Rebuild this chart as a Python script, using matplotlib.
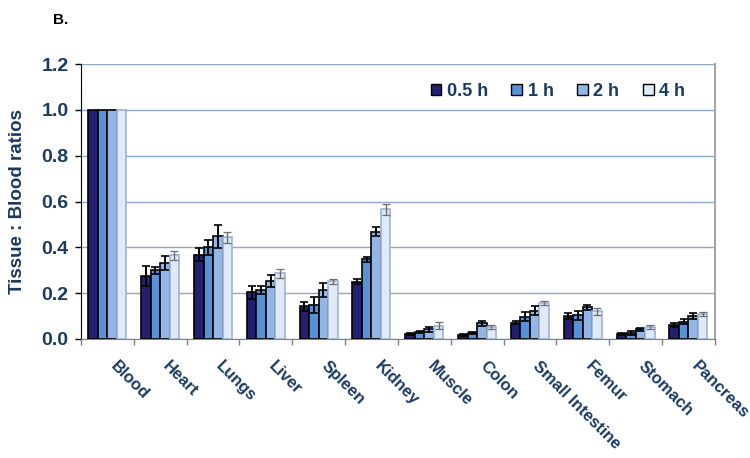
import matplotlib
matplotlib.use("Agg")
import matplotlib.pyplot as plt
import matplotlib.transforms as mtransforms
import numpy as np

plt.rcParams['font.family'] = ['Liberation Sans', 'DejaVu Sans']

categories = ["Blood", "Heart", "Lungs", "Liver", "Spleen", "Kidney", "Muscle",
              "Colon", "Small Intestine", "Femur", "Stomach", "Pancreas"]
series = ["0.5 h", "1 h", "2 h", "4 h"]

v_05 = [1.0, 0.275, 0.367, 0.204, 0.143, 0.250, 0.023, 0.017, 0.071, 0.100, 0.023, 0.061]
v_1  = [1.0, 0.300, 0.400, 0.215, 0.147, 0.348, 0.029, 0.026, 0.097, 0.103, 0.026, 0.076]
v_2  = [1.0, 0.330, 0.448, 0.253, 0.214, 0.468, 0.042, 0.068, 0.124, 0.138, 0.042, 0.100]
v_4  = [1.0, 0.365, 0.444, 0.287, 0.252, 0.566, 0.058, 0.052, 0.158, 0.121, 0.052, 0.109]

e_05 = [0.0, 0.045, 0.028, 0.028, 0.020, 0.012, 0.004, 0.004, 0.008, 0.012, 0.004, 0.010]
e_1  = [0.0, 0.015, 0.033, 0.018, 0.035, 0.010, 0.005, 0.004, 0.020, 0.020, 0.008, 0.010]
e_2  = [0.0, 0.030, 0.050, 0.025, 0.030, 0.020, 0.010, 0.012, 0.020, 0.010, 0.006, 0.014]
e_4  = [0.0, 0.020, 0.025, 0.020, 0.010, 0.025, 0.014, 0.010, 0.008, 0.015, 0.010, 0.010]

values = [v_05, v_1, v_2, v_4]
errors = [e_05, e_1, e_2, e_4]
colors = ["#241f6e", "#5592d8", "#92b6e6", "#dfe9f7"]
edges = ["#000000", "#000000", "#000000", "#9cb4d6"]
ecolors = ["#000000", "#000000", "#000000", "#6e6e6e"]

txt = "#1a3a63"

fig = plt.figure(figsize=(7.5, 4.58), dpi=100)
ax = fig.add_axes([0.108, 0.260, 0.845, 0.600])

x = np.arange(len(categories))
bw = 0.18
for i in range(4):
    ax.bar(x + (i - 1.5) * bw, values[i], bw, color=colors[i], edgecolor=edges[i],
           linewidth=1.2, label=series[i], zorder=3,
           yerr=[e if e > 0 else np.nan for e in errors[i]],
           error_kw=dict(ecolor=ecolors[i], elinewidth=1.4 if i < 3 else 1.0,
                         capsize=3, capthick=1.2 if i < 3 else 0.9, zorder=4))

ax.set_xlim(-0.5, len(categories) - 0.5)
ax.set_ylim(0, 1.2)
ax.set_yticks(np.arange(0, 1.21, 0.2))
ax.set_yticklabels([f"{t:.1f}" for t in np.arange(0, 1.21, 0.2)],
                   fontsize=14, fontweight='bold', color=txt)
ax.yaxis.grid(True, color="#8da7c9", linewidth=1.0, zorder=0)
ax.set_axisbelow(True)

ax.set_xticks(x)
ax.set_xticklabels(categories, rotation=-45, ha='left', va='top',
                   fontsize=12, fontweight='bold', color=txt)
shift = mtransforms.ScaledTranslation(-5 / 100, 0, fig.dpi_scale_trans)
for lab in ax.get_xticklabels():
    lab.set_transform(lab.get_transform() + shift)
ax.tick_params(axis='x', which='major', length=0, pad=14)
ax.set_xticks(np.arange(-0.5, len(categories), 1), minor=True)
ax.tick_params(axis='x', which='minor', length=4, color="#808080", width=1)
ax.tick_params(axis='y', length=4, color="#000000", width=1, pad=5)

ax.spines['left'].set_color("#000000")
ax.spines['bottom'].set_color("#808080")
ax.spines['right'].set_color("#a6a6a6")
ax.spines['right'].set_linewidth(1.5)
ax.spines['top'].set_visible(False)

ax.set_ylabel("Tissue : Blood ratios", fontsize=13.5, fontweight='bold', color=txt, labelpad=11)

leg = ax.legend(loc='upper right', bbox_to_anchor=(0.979, 0.99), ncol=4, frameon=False,
                prop=dict(size=13, weight='bold'), handlelength=0.6, handleheight=0.6,
                handletextpad=0.3, columnspacing=1.3)
for t in leg.get_texts():
    t.set_color(txt)
for h in leg.legend_handles:
    h.set_edgecolor("#000000")
    h.set_linewidth(1.0)

fig.text(0.071, 0.972, "B.", fontsize=11, fontweight='bold', color="#000000", va='top')

fig.savefig("out.png", dpi=100)
